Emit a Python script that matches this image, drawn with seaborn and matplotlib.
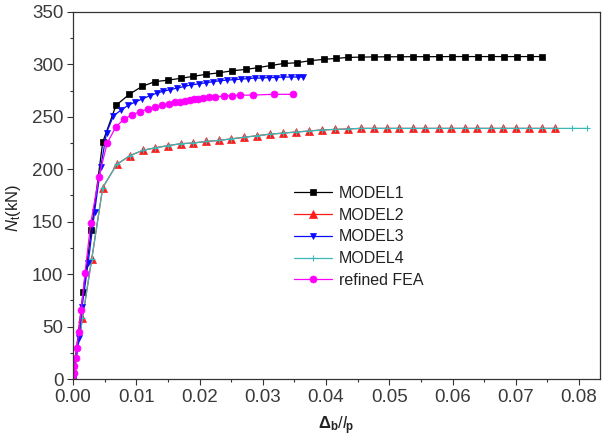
import matplotlib
matplotlib.use("Agg")
import matplotlib.pyplot as plt
import seaborn as sns
import pandas as pd
from matplotlib.ticker import MultipleLocator

# ---- data ----
m1_x = [0, 0.0016, 0.0029, 0.0047, 0.0068, 0.0089, 0.0109, 0.0129, 0.0150, 0.0170,
        0.0189, 0.0210, 0.0231, 0.0252, 0.0274, 0.0293, 0.0313, 0.0333, 0.0354, 0.0374,
        0.0396, 0.0415, 0.0435, 0.0456, 0.0476, 0.0497, 0.0517, 0.0538, 0.0558, 0.0579,
        0.0599, 0.0620, 0.0640, 0.0661, 0.0681, 0.0702, 0.0722, 0.0742]
m1_y = [0, 83, 142, 226, 261, 271.5, 279, 283.5, 285, 286.7,
        288.6, 290.5, 292, 294, 295.3, 297, 299, 300.9, 301.6, 303.5,
        304.8, 305.7, 306.7, 307, 307.2, 307.3, 307.3, 307.4, 307.4, 307.4,
        307.5, 307.5, 307.5, 307.5, 307.5, 307.5, 307.5, 307.5]

m2_x = [0, 0.0015, 0.00295, 0.0047, 0.0069, 0.0090, 0.0110, 0.0130, 0.0150, 0.0170,
        0.0189, 0.0210, 0.0230, 0.0250, 0.0270, 0.0291, 0.0311, 0.0332, 0.0352, 0.0373,
        0.0393, 0.0414, 0.0434, 0.0455, 0.0475, 0.0496, 0.0516, 0.0537, 0.0557, 0.0578,
        0.0598, 0.0619, 0.0639, 0.0660, 0.0680, 0.0701, 0.0721, 0.0742, 0.0762]
m2_y = [0, 58, 114, 182.5, 204.6, 213, 218, 220.5, 222.5, 224.4,
        225, 226.5, 227.5, 229, 230.5, 232, 233.5, 234.5, 235.5, 236.5,
        237.5, 238, 238.5, 239, 239, 239, 239, 239, 239, 239,
        239, 239, 239, 239, 239, 239, 239, 239, 239]

m4_x = m2_x + [0.0789, 0.0812]
m4_y = m2_y + [239, 239]

m3_x = [0, 0.00095, 0.00142, 0.0024, 0.0034, 0.0044, 0.0053, 0.0064, 0.0076,
        0.0087, 0.0098, 0.0109, 0.0121, 0.0132, 0.0143, 0.0154, 0.0165, 0.0176, 0.0187,
        0.0199, 0.0210, 0.0221, 0.0232, 0.0243, 0.0254, 0.0266, 0.0277, 0.0288, 0.0299,
        0.0310, 0.0321, 0.0332, 0.0344, 0.0355, 0.0364]
m3_y = [0, 38.8, 68.3, 111, 159, 202.5, 235, 251, 256.5,
        261, 264, 267, 270, 272.5, 274.5, 276, 277.5, 279, 280.5,
        281.5, 282.5, 283.5, 284.5, 285, 285.5, 286, 286.5, 287, 287,
        287.5, 287.5, 288, 288, 288, 288]

fea_x = [0, 0.0001, 0.0002, 0.0004, 0.0006, 0.0009, 0.0013, 0.0019, 0.0028, 0.0041,
         0.0054, 0.0068, 0.0081, 0.0093, 0.0106, 0.0119, 0.0130, 0.0140, 0.0151, 0.0161,
         0.0169, 0.0177, 0.0185, 0.0192, 0.0198, 0.0206, 0.0215, 0.0225, 0.0238, 0.0251,
         0.0264, 0.0285, 0.0317, 0.0348]
fea_y = [0, 6, 12, 20, 30, 44.5, 66, 101, 148.5, 193,
         225, 240.6, 248, 251.8, 255, 257.5, 259.7, 261.3, 262.3, 263.8,
         264.6, 265.4, 266.2, 266.7, 267, 267.8, 268.5, 268.9, 269.9, 270.2,
         270.6, 270.8, 271.5, 271.5]

series = [
    ("MODEL1", m1_x, m1_y, dict(color="black", marker="s", markersize=4.3)),
    ("MODEL2", m2_x, m2_y, dict(color="#ff1a1a", marker="^", markersize=5.3)),
    ("MODEL4", m4_x, m4_y, dict(color="#3cb8b8", marker="+", markersize=5, markeredgewidth=0.8)),
    ("MODEL3", m3_x, m3_y, dict(color="#0a0aff", marker="v", markersize=5)),
    ("refined FEA", fea_x, fea_y, dict(color="#ff00ff", marker="o", markersize=5)),
]

sns.set_style("ticks")
plt.rcParams["font.family"] = ["Liberation Sans", "DejaVu Sans"]
plt.rcParams["mathtext.fontset"] = "custom"
plt.rcParams["mathtext.rm"] = "Liberation Sans"
plt.rcParams["mathtext.it"] = "Liberation Sans:italic"
plt.rcParams["mathtext.bf"] = "Liberation Sans:bold"

fig = plt.figure(figsize=(6.05, 4.40), dpi=100)
ax = fig.add_axes([73 / 605, 1 - 379 / 440, (600 - 73) / 605, (379 - 12) / 440])

for name, xs, ys, st in series:
    df = pd.DataFrame({"x": xs, "y": ys})
    sns.lineplot(data=df, x="x", y="y", ax=ax, sort=False, estimator=None,
                 linewidth=0.9, markeredgecolor=st["color"], markeredgewidth=st.pop("markeredgewidth", 0.5),
                 label=name, **st)

ax.set_xlim(0, 0.0833)
ax.set_ylim(0, 350)
ax.xaxis.set_major_locator(MultipleLocator(0.01))
ax.xaxis.set_minor_locator(MultipleLocator(0.005))
ax.yaxis.set_major_locator(MultipleLocator(50))
ax.yaxis.set_minor_locator(MultipleLocator(25))
ax.xaxis.set_major_formatter(matplotlib.ticker.FormatStrFormatter("%.2f"))

tc = "#333333"
ax.tick_params(axis="both", which="major", direction="out", length=4, width=0.8,
               labelsize=13.5, colors=tc, labelcolor="#3a3a3a", pad=3)
ax.tick_params(axis="both", which="minor", direction="out", length=2.5, width=0.8, colors=tc)
for s in ax.spines.values():
    s.set_visible(True)
    s.set_color(tc)
    s.set_linewidth(0.9)

ax.set_xlabel(r"$\mathbf{\Delta_b}/\mathit{l}_\mathbf{p}$", fontsize=12, color="#222222", labelpad=6)
ax.set_ylabel(r"$\mathit{N}_\mathrm{t}$(kN)", fontsize=12, color="#222222")
ax.yaxis.set_label_coords((23 - 73) / 527, (379 - 208) / 367)

h, l = ax.get_legend_handles_labels()
order = ["MODEL1", "MODEL2", "MODEL3", "MODEL4", "refined FEA"]
hd = dict(zip(l, h))
ax.legend([hd[k] for k in order], order, loc="upper left",
          bbox_to_anchor=(294 / 605, 1 - 186 / 440), bbox_transform=fig.transFigure,
          frameon=False, fontsize=11.5, handlelength=2.4, handletextpad=0.4,
          labelspacing=0.42, borderaxespad=0, borderpad=0, labelcolor="#222222")

fig.savefig("out.png", dpi=100)
